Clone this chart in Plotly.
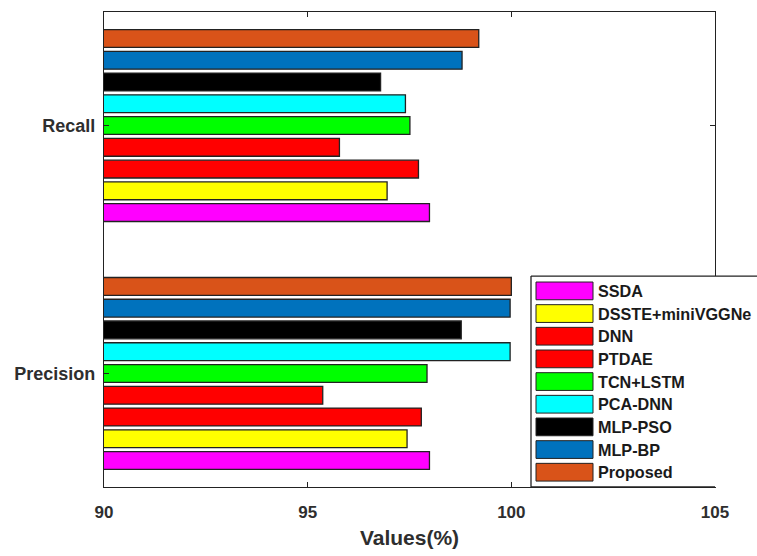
import plotly.graph_objects as go

# ---- data -------------------------------------------------------------
categories = ["Precision", "Recall"]
methods = ["SSDA", "DSSTE+miniVGGNe", "DNN", "PTDAE", "TCN+LSTM",
           "PCA-DNN", "MLP-PSO", "MLP-BP", "Proposed"]
precision = [97.99, 97.44, 97.79, 95.37, 97.93, 99.97, 98.77, 99.97, 100.0]
recall = [97.99, 96.95, 97.72, 95.78, 97.51, 97.40, 96.79, 98.79, 99.20]
colors = ["#FF00FF", "#FFFF00", "#FF0000", "#FF0000", "#00FF00",
          "#00FFFF", "#000000", "#0072BD", "#D95319"]
x_ticks = [90, 95, 100, 105]

# ---- figure geometry --------------------------------------------------
W, H = 757, 556
L, R, T, B = 104, 42, 11, 63
PW, PH = W - L - R, H - T - B
AXIS = "#222222"
FONT = "Liberation Sans, Arial, sans-serif"


def px(xp):
    return (xp - L) / PW


def py(yp):
    return (H - B - yp) / PH


fig = go.Figure()
for name, p, r, c in zip(methods, precision, recall, colors):
    fig.add_trace(go.Bar(
        y=categories, x=[p, r], orientation="h", name=name,
        marker=dict(color=c, line=dict(color=AXIS, width=1.3)),
        showlegend=False,
    ))

# ---- hand-drawn legend box (MATLAB style) -----------------------------
shapes = []
annotations = []
lx0, ly0, ly1 = 531, 279, 493
shapes.append(dict(type="rect", xref="paper", yref="paper",
                   x0=px(lx0), x1=px(820), y0=py(ly1), y1=py(ly0),
                   fillcolor="white", line=dict(width=0), layer="above"))
for (xa, ya, xb, yb) in [(lx0, ly0, 820, ly0), (lx0, ly0, lx0, ly1),
                         (lx0, ly1, 715, ly1)]:
    shapes.append(dict(type="line", xref="paper", yref="paper",
                       x0=px(xa), x1=px(xb), y0=py(ya), y1=py(yb),
                       line=dict(color=AXIS, width=1.3), layer="above"))
for i, (name, c) in enumerate(zip(methods, colors)):
    cy = 294 + 23 * i
    shapes.append(dict(type="rect", xref="paper", yref="paper",
                       x0=px(536), x1=px(593), y0=py(cy + 9), y1=py(cy - 9),
                       fillcolor=c, line=dict(color=AXIS, width=1),
                       layer="above"))
    annotations.append(dict(xref="paper", yref="paper", x=px(596), y=py(cy),
                            xanchor="left", yanchor="middle", showarrow=False,
                            text=name,
                            font=dict(family=FONT, size=16.2, weight="bold",
                                      color="#1a1a1a")))

fig.update_layout(
    width=W, height=H,
    margin=dict(l=L, r=R, t=T, b=B, pad=0),
    paper_bgcolor="white", plot_bgcolor="white",
    barmode="group", bargap=0.21, bargroupgap=0.18,
    shapes=shapes, annotations=annotations,
    font=dict(family=FONT),
    xaxis=dict(
        range=[90, 105], tickvals=x_ticks, ticktext=[str(v) for v in x_ticks],
        showline=True, linecolor=AXIS, linewidth=1.3, mirror="ticks",
        ticks="inside", ticklen=5, tickcolor=AXIS, tickwidth=1,
        showgrid=False, zeroline=False, ticklabelstandoff=9,
        tickfont=dict(family=FONT, size=17, weight="bold", color="#2e2e2e"),
        title=dict(text="Values(%)", standoff=9,
                   font=dict(family=FONT, size=21, weight="bold",
                             color="#2e2e2e")),
    ),
    yaxis=dict(
        type="category", categoryorder="array", categoryarray=categories,
        range=[-0.458, 1.458],
        showline=True, linecolor=AXIS, linewidth=1.3, mirror="ticks",
        ticks="inside", ticklen=5, tickcolor=AXIS, tickwidth=1,
        showgrid=False, zeroline=False, ticklabelstandoff=4,
        tickfont=dict(family=FONT, size=18, weight="bold", color="#2e2e2e"),
    ),
)

fig.write_html("out.html")
